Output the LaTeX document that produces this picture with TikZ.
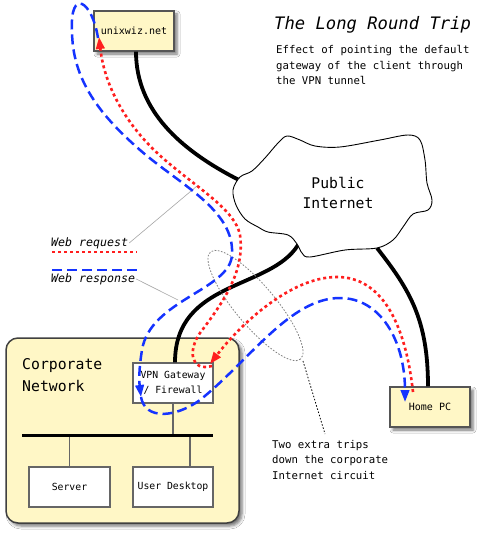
\documentclass[tikz,border=0pt]{standalone}
\usepackage{fontspec}
\setmainfont{DejaVu Sans Mono}
\usetikzlibrary{arrows.meta,shadows.blur}
\definecolor{boxyellow}{HTML}{FFF7C6}
\definecolor{boxborder}{HTML}{555555}
\definecolor{reqred}{HTML}{FF1E1E}
\definecolor{respblue}{HTML}{1533FF}
\newcommand{\myfs}[2]{\fontsize{#1}{#2}\selectfont}
\begin{document}
\begin{tikzpicture}[x=1pt,y=-1pt,
  shadowed/.style={blur shadow={shadow xshift=3pt,shadow yshift=-3pt,shadow blur radius=3pt,shadow opacity=55}},
  ybox/.style={draw=boxborder,line width=1.3pt,fill=boxyellow,minimum width=80pt,minimum height=40pt,inner sep=0pt,shadowed,font=\myfs{10}{12}},
  corpbox/.style={draw=black!75,line width=1.5pt,fill=boxyellow,rounded corners=12pt,minimum width=233pt,minimum height=185pt,inner sep=0pt,shadowed},
  wbox/.style={draw=black!60,line width=1.2pt,fill=white,minimum width=80pt,minimum height=40pt,inner sep=0pt,align=center,font=\myfs{9.8}{15}},
  link/.style={line width=3.8pt,black},
  bus/.style={line width=3pt,black},
  conn/.style={line width=1.8pt,black!60},
  req/.style={reqred,line width=2.6pt,dash pattern=on 3pt off 3pt},
  resp/.style={respblue,line width=2.5pt,dash pattern=on 10pt off 5pt},
  tip/.style={-{Triangle[length=12pt,width=8.5pt]}},
  leader/.style={black!35,line width=0.6pt},
  ellip/.style={black!50,line width=0.8pt,dash pattern=on 1.6pt off 1.6pt},
  note/.style={black,line width=0.8pt,dash pattern=on 1.5pt off 1.8pt},
  plain/.style={inner sep=0pt,align=left}
]
\useasboundingbox[fill=white] (0,0) rectangle (484,535);

% corporate network
\node[corpbox] (corp) at (122.5,430.5) {};
\node[plain,anchor=north west,font=\myfs{14.8}{22}] (corptext) at (22,358.5) {Corporate\\Network};
\node[wbox] (gw) at (173,383) {VPN Gateway\\/ Firewall};
\node[wbox,minimum width=81pt] (server) at (69.5,487) {Server};
\node[wbox] (desk) at (173,487) {User Desktop};
\coordinate (busL) at (22,435);
\coordinate (busR) at (213,435);
\draw[conn] (gw.south) -- (gw.south |- busL);
\draw[conn] (server.north) -- (server.north |- busL);
\draw[conn] ([xshift=17pt]desk.north) -- ([xshift=17pt]desk.north |- busL);
\draw[bus] (busL) -- (busR);

% outside boxes
\node[ybox] (unix) at (134,31) {unixwiz.net};
\node[ybox] (home) at (430,407) {Home PC};

% cloud anchor points
\coordinate (cl1) at (239,180);
\coordinate (cl2) at (298,245);
\coordinate (cl3) at (377,248);

% thick links
\draw[link] ([xshift=2pt]unix.south) .. controls (136,110) and (180,150) .. (cl1);
\draw[link] (cl2) .. controls (270,290) and (175,280) .. ([xshift=2pt]gw.north);
\draw[link] (cl3) .. controls (410,290) and (428,320) .. ([xshift=-2pt]home.north);

% cloud
\draw[fill=white,line width=0.9pt] plot[smooth cycle,tension=0.55] coordinates {
 (287,136) (300,140) (315,146) (340,147) (380,140) (408,135) (420,140) (425,160)
 (427,183) (432,200) (428,210) (413,214) (403,227) (393,240) (377,248) (345,250)
 (310,257) (302,253) (297,244) (288,235) (268,232) (258,227) (245,219) (236,205)
 (233,190) (240,177) (252,171) (265,158) (278,143)};
\node[align=center,inner sep=0pt,font=\myfs{14.7}{20}] (inet) at (338,193) {Public\\Internet};

% title and description
\node[plain,anchor=west,font=\myfs{17.2}{20}\itshape] (title) at (274,25) {The Long Round Trip};
\node[plain,anchor=north west,font=\myfs{10.7}{15.5}] (desc) at (276,45.5) {Effect of pointing the default\\gateway of the client through\\the VPN tunnel};

% gray ellipse and note
\draw[ellip,rotate around={-50:(255.5,305.5)}] (255.5,305.5) ellipse [x radius=70,y radius=20];
\coordinate (ellb) at (303,361);
\node[plain,anchor=north west,font=\myfs{10.7}{15.5}] (extra) at (272,440) {Two extra trips\\down the corporate\\Internet circuit};
\coordinate (notept) at (325,434);
\draw[note] (ellb) -- (notept);

% legend
\node[plain,anchor=west,font=\myfs{11.6}{14}\itshape] (lreq) at (51,243) {Web request};
\node[plain,anchor=west,font=\myfs{11.6}{14}\itshape] (lresp) at (51,279) {Web response};
\coordinate (lr1) at (52,252); \coordinate (lr2) at (137,252);
\coordinate (lb1) at (52,270); \coordinate (lb2) at (137,270);
\draw[req] (lr1) -- (lr2);
\draw[resp] (lb1) -- (lb2);
\coordinate (reqpt) at (197,186);
\coordinate (resppt) at (178,300);
\draw[leader] ([xshift=1pt]lreq.east) -- (reqpt);
\draw[leader] ([xshift=1pt]lresp.east) -- (resppt);

% web request (red)
\coordinate (rq0) at (413,392);
\coordinate (gwin) at (210,364);
\coordinate (gwout) at (212,366);
\coordinate (unixin) at (99,37);
\draw[req,tip] (rq0) .. controls (405,320) and (380,277) .. (337,277)
   .. controls (290,277) and (240,325) .. (gwin);
\draw[req,tip] (gwout) .. controls (190,372) and (188,350) .. (200,333)
   .. controls (225,300) and (245,270) .. (240,235)
   .. controls (235,210) and (200,190) .. (165,160)
   .. controls (130,130) and (105,90) .. (unixin);

% web response (blue)
\coordinate (unixout) at (98,38);
\coordinate (gwblue) at (141,397);
\coordinate (homein) at (405,402);
\draw[resp,tip] (unixout) .. controls (92,0) and (70,-12) .. (72,30)
   .. controls (72,80) and (100,115) .. (140,150)
   .. controls (180,185) and (235,210) .. (232,255)
   .. controls (230,290) and (150,300) .. (142,350)
   .. controls (139,368) and (139,380) .. (gwblue);
\draw[resp,tip] (gwblue) .. controls (145,420) and (175,418) .. (200,400)
   .. controls (250,360) and (290,298) .. (340,298)
   .. controls (380,298) and (405,340) .. (homein);
\end{tikzpicture}
\end{document}
